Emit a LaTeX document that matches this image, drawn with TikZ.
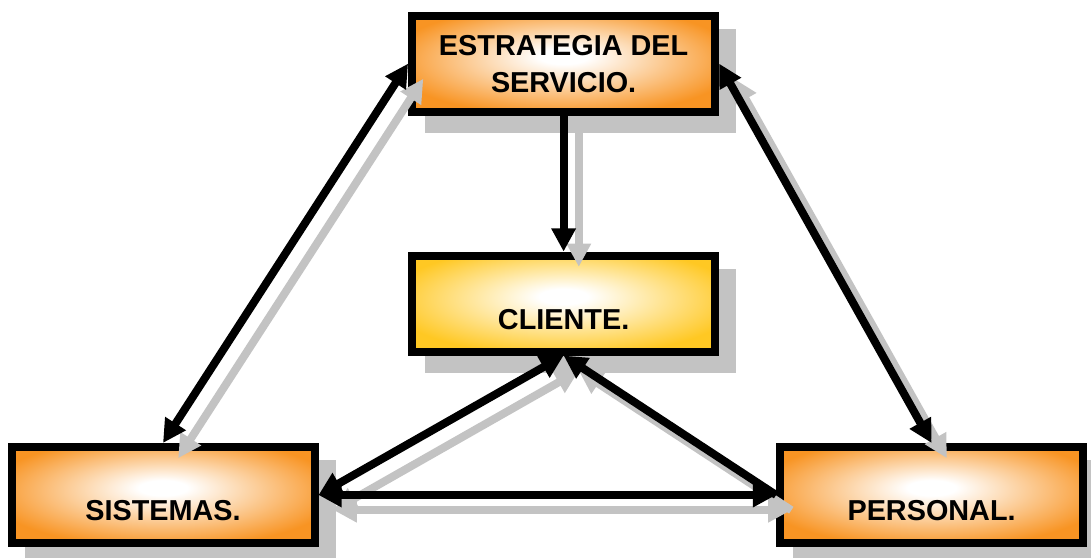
\documentclass[tikz,border=0pt]{standalone}
\usepackage{fontspec}
\setmainfont{Liberation Sans}
\usepackage{tikz}
\usetikzlibrary{arrows.meta, shadows}
\definecolor{boxorange}{RGB}{248, 148, 35}
\definecolor{clientgold}{RGB}{255, 200, 35}
\definecolor{shadowgrey}{RGB}{195, 195, 195}
\pgfdeclareradialshading{orangeglow}{\pgfpoint{0bp}{4bp}}{color(0bp)=(white); color(4bp)=(white); color(29bp)=(boxorange); color(50bp)=(boxorange)}
\pgfdeclareradialshading{goldglow}{\pgfpoint{0bp}{4bp}}{color(0bp)=(white); color(4bp)=(white); color(29bp)=(clientgold); color(50bp)=(clientgold)}

\begin{document}
\begin{tikzpicture}[
    box/.style={draw=black, line width=0.2cm, minimum width=7.575cm, minimum height=2.4cm,
        font=\bfseries\fontsize{20.5}{26.3}\selectfont, align=center,
        drop shadow={shadow xshift=0.425cm, shadow yshift=-0.425cm, fill=shadowgrey, draw=shadowgrey, opacity=1}},
    lowtext/.style={text height=1.28cm, text depth=0cm},
    link/.style={line width=0.2cm, preaction={draw=shadowgrey, line width=0.2cm, transform canvas={shift={(0.38cm,-0.38cm)}}}},
    >={Triangle[length=0.58cm, width=0.58cm]}
]
    \useasboundingbox (0,0) rectangle (27.275,-13.95);

    % The Boxes
    \node[box, shading=orangeglow] (estrategia) at (14.09,-1.59) {ESTRATEGIA DEL\\SERVICIO.};
    \node[box, lowtext, shading=goldglow] (cliente) at (14.09,-7.59) {CLIENTE.};
    \node[box, lowtext, shading=orangeglow] (sistemas) at (4.075,-12.375) {SISTEMAS.};
    \node[box, lowtext, shading=orangeglow] (personal) at (23.29,-12.375) {PERSONAL.};

    % The Arrows
    \draw[link, <->] (sistemas.north) -- (estrategia.west);
    \draw[link, <->] (estrategia.east) -- (personal.north);
    \draw[link, ->] (estrategia.south) -- (cliente.north);
    \draw[link, <->] (sistemas.east) -- (cliente.south);
    \draw[link, ->] (personal.west) -- (cliente.south);
    \draw[link, <->] (sistemas.east) -- (personal.west);
\end{tikzpicture}
\end{document}
